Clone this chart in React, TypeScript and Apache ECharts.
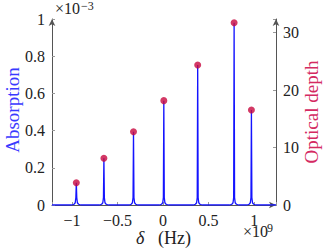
import React, { useEffect, useRef } from "react";
import * as echarts from "echarts";

// Peak positions (×10^9 Hz), absorption peak heights (×10^-3) and optical depths
const peakDelta = [-0.953, -0.65, -0.325, 0.008, 0.38, 0.78, 0.97];
const peakOpticalDepth = [3.88, 8.12, 12.75, 18.15, 24.35, 31.7, 16.53];

// Absorption spectrum (δ ×10^9 Hz, absorption ×10^-3)
const absorptionCurve: [number, number][] = [
  [-1.22, 0],
  [-1.003, 0], [-0.978, 0.004], [-0.965, 0.012], [-0.958, 0.04], [-0.953, 0.12], [-0.948, 0.04], [-0.941, 0.012], [-0.928, 0.004], [-0.903, 0],
  [-0.7, 0], [-0.675, 0.004], [-0.662, 0.012], [-0.655, 0.04], [-0.65, 0.251], [-0.645, 0.04], [-0.638, 0.012], [-0.625, 0.004], [-0.6, 0],
  [-0.375, 0], [-0.35, 0.004], [-0.337, 0.012], [-0.33, 0.04], [-0.325, 0.394], [-0.32, 0.04], [-0.313, 0.012], [-0.3, 0.004], [-0.275, 0],
  [-0.042, 0], [-0.017, 0.004], [-0.004, 0.012], [0.003, 0.04], [0.008, 0.561], [0.013, 0.04], [0.02, 0.012], [0.033, 0.004], [0.058, 0],
  [0.33, 0], [0.355, 0.004], [0.368, 0.012], [0.375, 0.04], [0.38, 0.753], [0.385, 0.04], [0.392, 0.012], [0.405, 0.004], [0.43, 0],
  [0.73, 0], [0.755, 0.004], [0.768, 0.012], [0.775, 0.04], [0.78, 0.98], [0.785, 0.04], [0.792, 0.012], [0.805, 0.004], [0.83, 0],
  [0.92, 0], [0.945, 0.004], [0.958, 0.012], [0.965, 0.04], [0.97, 0.511], [0.975, 0.04], [0.982, 0.012], [0.995, 0.004], [1.02, 0],
  [1.24, 0],
];

const leftTicks = [0, 0.2, 0.4, 0.6, 0.8, 1];

const FONT = "'Liberation Serif', 'DejaVu Serif', serif";
const BLUE = "#1414ff";
const BLUE_TEXT = "#3a3aff";
const RED = "#c8083f";
const RED_TEXT = "#d42a62";
const AXIS = "#555";

const fmtNum = (v: number) => {
  const s = String(+v.toFixed(3));
  return s.replace("-", "\u2212");
};

export default function App() {
  const ref = useRef<HTMLDivElement>(null);
  useEffect(() => {
    document.body.style.margin = "0";
    if (!ref.current) return;
    const chart = echarts.init(ref.current, undefined, { renderer: "svg" });
    const axisLineCommon = {
      show: true,
      onZero: false,
      symbol: ["none", "arrow"],
      symbolSize: [5, 7],
      lineStyle: { color: AXIS, width: 1 },
    };
    const labelCommon = { margin: 7, fontFamily: FONT, fontSize: 16, color: "#222" };
    chart.setOption({
      animation: false,
      backgroundColor: "#fff",
      grid: { left: 52, right: 51, top: 19, bottom: 45 },
      xAxis: {
        type: "value",
        min: -1.22,
        max: 1.24,
        splitNumber: 5,
        axisLine: axisLineCommon,
        axisTick: { show: true, inside: true, length: 3, lineStyle: { color: "#999" } },
        splitLine: { show: false },
        axisLabel: {
          ...labelCommon,
          formatter: (v: number) =>
            Math.abs(v * 2 - Math.round(v * 2)) < 1e-6 ? fmtNum(v) : "",
        },
      },
      yAxis: [
        {
          type: "value",
          position: "left",
          min: 0,
          max: 1,
          interval: 0.2,
          axisLine: axisLineCommon,
          axisTick: { show: true, inside: true, length: 3, lineStyle: { color: "#999" } },
          splitLine: { show: false },
          axisLabel: {
            ...labelCommon,
            formatter: (v: number) =>
              leftTicks.some((t) => Math.abs(t - v) < 1e-6) ? fmtNum(v) : "",
          },
        },
        {
          type: "value",
          position: "right",
          min: 0,
          max: 32.35,
          interval: 10,
          axisLine: axisLineCommon,
          axisTick: { show: true, inside: true, length: 3, lineStyle: { color: "#999" } },
          splitLine: { show: false },
          axisLabel: {
            ...labelCommon,
            formatter: (v: number) => (Math.abs(v % 10) < 1e-6 ? fmtNum(v) : ""),
          },
        },
      ],
      series: [
        {
          type: "line",
          xAxisIndex: 0,
          yAxisIndex: 0,
          data: absorptionCurve,
          showSymbol: false,
          symbol: "none",
          lineStyle: { color: BLUE, width: 1.3 },
          z: 3,
        },
        {
          type: "scatter",
          xAxisIndex: 0,
          yAxisIndex: 1,
          data: peakDelta.map((d, i) => [d, peakOpticalDepth[i]]),
          symbol: "circle",
          symbolSize: 7,
          itemStyle: { color: RED },
          z: 4,
        },
      ],
      graphic: [
        {
          type: "text",
          x: 12,
          y: 110,
          rotation: Math.PI / 2,
          style: {
            text: "Absorption",
            fontFamily: FONT,
            fontSize: 19,
            fill: BLUE_TEXT,
            align: "center",
            verticalAlign: "middle",
          },
        },
        {
          type: "text",
          x: 311,
          y: 112,
          rotation: Math.PI / 2,
          style: {
            text: "Optical depth",
            fontFamily: FONT,
            fontSize: 19,
            fill: RED_TEXT,
            align: "center",
            verticalAlign: "middle",
          },
        },
        {
          type: "text",
          x: 55,
          y: 16,
          style: {
            text: "\u00d710",
            fontFamily: FONT,
            fontSize: 16,
            fill: "#222",
            align: "left",
            verticalAlign: "bottom",
          },
        },
        {
          type: "text",
          x: 81,
          y: 12,
          style: {
            text: "\u22123",
            fontFamily: FONT,
            fontSize: 12,
            fill: "#222",
            align: "left",
            verticalAlign: "bottom",
          },
        },
        {
          type: "text",
          x: 243,
          y: 239,
          style: {
            text: "\u00d710",
            fontFamily: FONT,
            fontSize: 16,
            fill: "#222",
            align: "left",
            verticalAlign: "bottom",
          },
        },
        {
          type: "text",
          x: 267,
          y: 234,
          style: {
            text: "9",
            fontFamily: FONT,
            fontSize: 12,
            fill: "#222",
            align: "left",
            verticalAlign: "bottom",
          },
        },
        {
          type: "text",
          x: 136,
          y: 238,
          style: {
            text: "\u03b4",
            fontFamily: FONT,
            fontStyle: "italic",
            fontSize: 18,
            fill: "#222",
            align: "left",
            verticalAlign: "middle",
          },
        },
        {
          type: "text",
          x: 158,
          y: 238,
          style: {
            text: "(Hz)",
            fontFamily: FONT,
            fontSize: 18,
            fill: "#222",
            align: "left",
            verticalAlign: "middle",
          },
        },
      ],
    });
    return () => chart.dispose();
  }, []);
  return <div ref={ref} style={{ width: 327, height: 250 }} />;
}
